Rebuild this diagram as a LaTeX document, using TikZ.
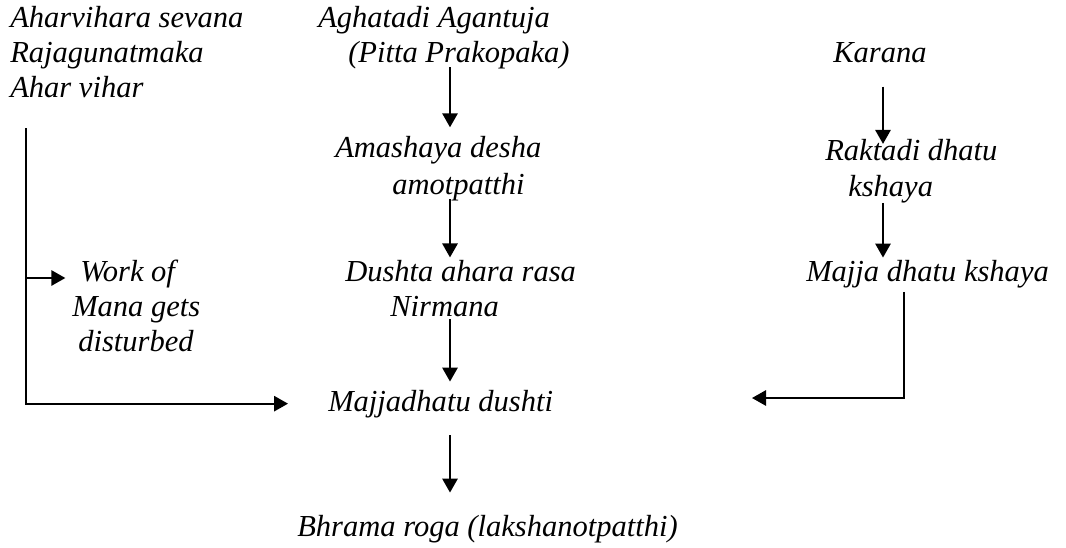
\documentclass[tikz,border=0pt]{standalone}
\usepackage{fontspec}
\setmainfont{Liberation Serif}
\usetikzlibrary{arrows.meta}

\begin{document}
\begin{tikzpicture}[x=0.75pt, y=-0.75pt,
  txt/.style={font=\fontsize{22.9}{26}\selectfont\itshape, inner sep=0pt, anchor=base west},
  flow/.style={line width=1.5pt, -{Triangle[length=10.5pt,width=11.5pt]}}]
  \useasboundingbox (0,0) rectangle (1066,547);

  % Causes (left and top)
  \node[txt] (ahar1) at (10,27) {Aharvihara sevana};
  \node[txt] (ahar2) at (10,62) {Rajagunatmaka};
  \node[txt] (ahar3) at (10,97) {Ahar vihar};
  \node[txt] (aghat) at (318,27) {Aghatadi Agantuja};
  \node[txt] (pitta) at (348,62) {(Pitta Prakopaka)};
  \node[txt] (karana) at (833,62) {Karana};

  % Middle chain
  \node[txt] (amash1) at (335,157) {Amashaya desha};
  \node[txt] (amash2) at (392,194) {amotpatthi};
  \node[txt] (dushta) at (345,281) {Dushta ahara rasa};
  \node[txt] (nirmana) at (390,316) {Nirmana};
  \node[txt] (majjad) at (328,411) {Majjadhatu dushti};
  \node[txt] (bhrama) at (297,536) {Bhrama roga (lakshanotpatthi)};

  % Mana branch
  \node[txt] (work1) at (80,281) {Work of};
  \node[txt] (work2) at (72,316) {Mana gets};
  \node[txt] (work3) at (78,351) {disturbed};

  % Right chain
  \node[txt] (rakta1) at (825,160) {Raktadi dhatu};
  \node[txt] (rakta2) at (848,196) {kshaya};
  \node[txt] (majjak) at (806,281) {Majja dhatu kshaya};

  \coordinate (colA) at (450,0);
  \coordinate (colR) at (883,0);
  \coordinate (lstart) at (26,128);
  \coordinate (lbranch) at (26,278);
  \coordinate (rdrop) at (904,0);
  \coordinate (rin) at (752,398);

  % Arrows, middle chain
  \draw[flow, shorten <=-1pt, shorten >=6.2pt] (pitta.south -| colA) -- (amash1.north -| colA);
  \draw[flow, shorten <=-1pt, shorten >=1.6pt] (amash2.south -| colA) -- (dushta.north -| colA);
  \draw[flow, shorten <=2pt, shorten >=6pt] (nirmana.south -| colA) -- (majjad.north -| colA);
  \draw[flow, shorten <=13pt, shorten >=16.5pt] (majjad.south -| colA) -- (bhrama.north -| colA);

  % Arrows, right chain
  \draw[flow, shorten <=18pt, shorten >=-4pt] (karana.south -| colR) -- (rakta1.north -| colR);
  \draw[flow, shorten <=0pt, shorten >=1.5pt] (rakta2.south -| colR) -- (majjak.north -| colR);
  \draw[flow, line width=1.4pt, shorten <=3pt] (majjak.south -| rdrop) |- (rin);

  % Left line
  \draw[flow, line width=1.4pt, shorten >=30pt] (lstart) |- (majjad.west);
  \draw[flow, line width=1.4pt, shorten >=11pt] (lbranch) -- (lbranch -| work1.west);
\end{tikzpicture}
\end{document}
